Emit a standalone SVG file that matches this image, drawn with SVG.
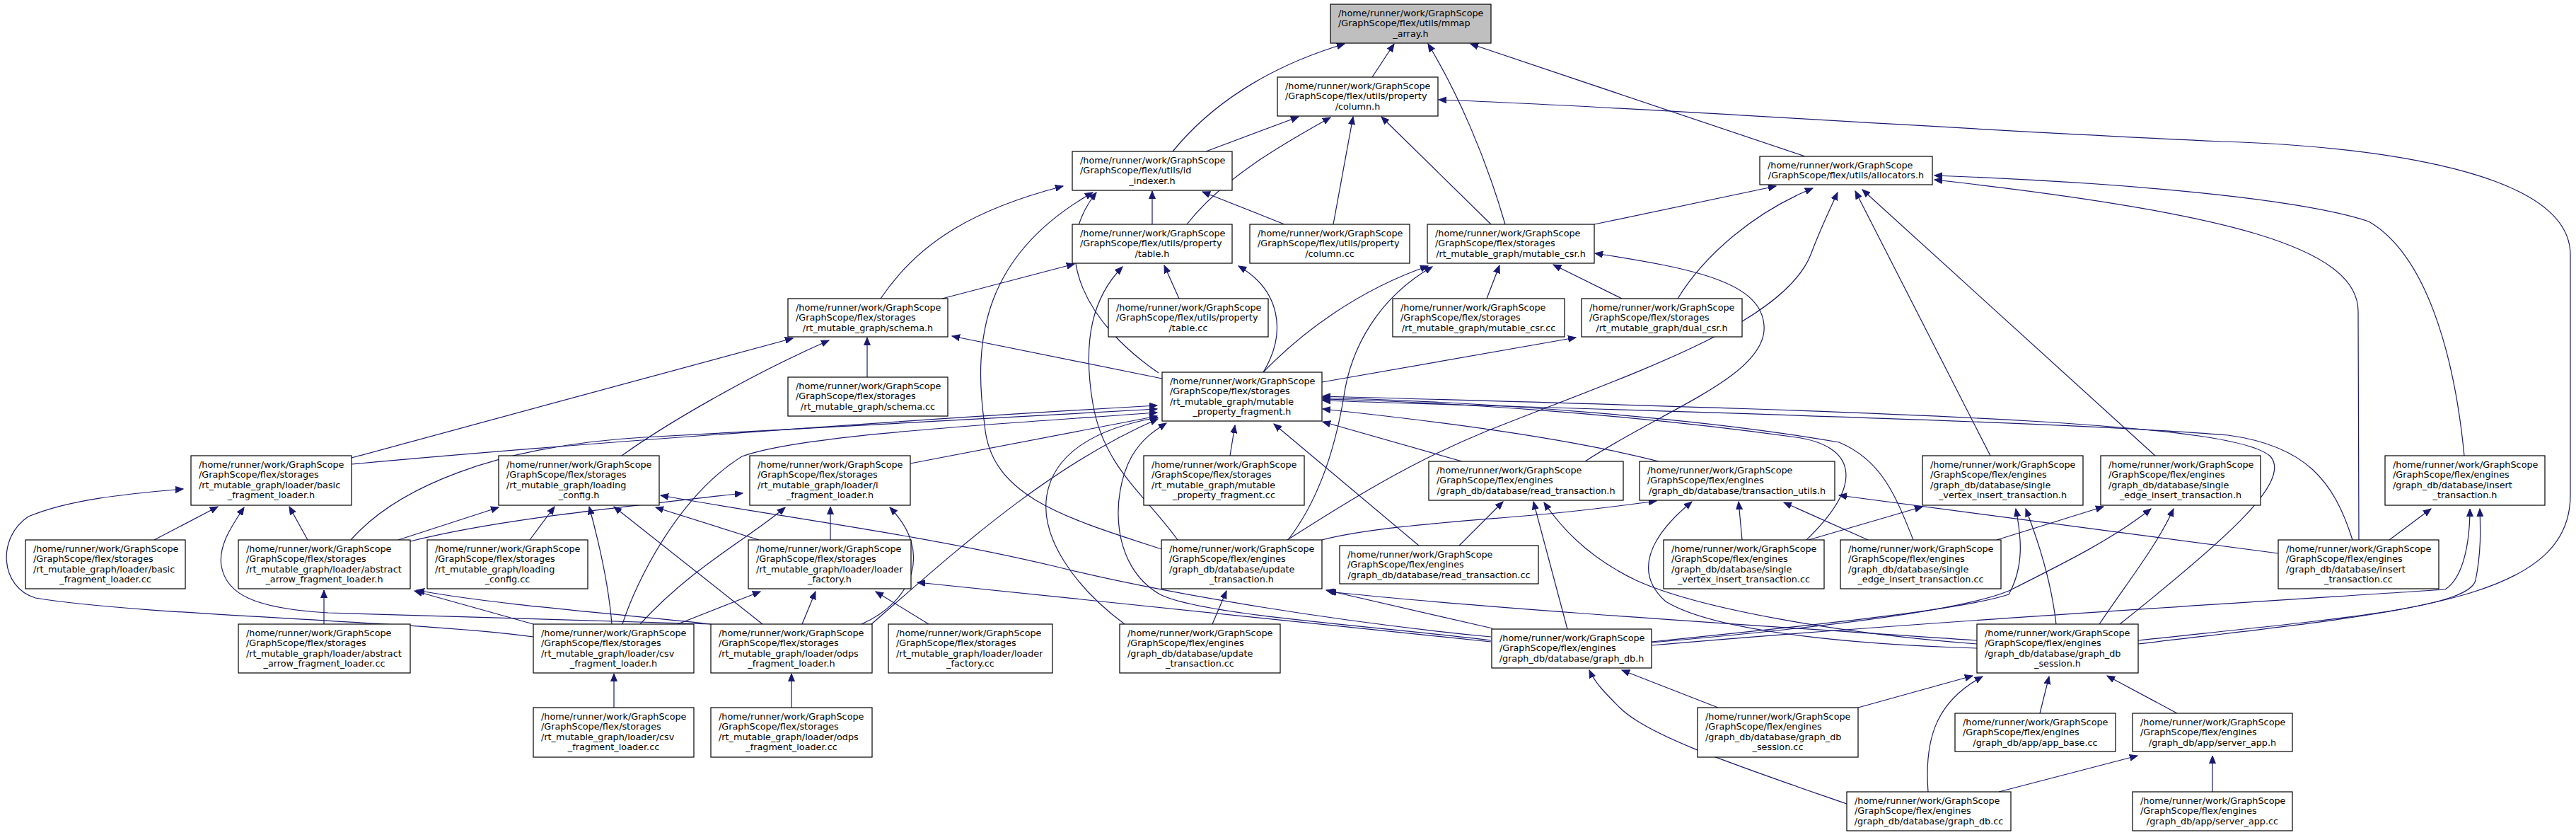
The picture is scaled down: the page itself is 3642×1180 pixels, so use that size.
<svg xmlns="http://www.w3.org/2000/svg" width="3642" height="1180" viewBox="0 0 3642 1180">
<defs>
<style>
.n rect{fill:#fff;stroke:#000;stroke-width:1.2}
.n rect.g{fill:#bfbfbf}
.n text{font-family:"DejaVu Sans",sans-serif;font-size:12.8px;fill:#000}
.n text.c{text-anchor:middle}
#edges path{fill:none;stroke:#191970;stroke-width:1.2;marker-end:url(#a)}
</style>
<marker id="a" markerUnits="userSpaceOnUse" markerWidth="12" markerHeight="10" refX="11" refY="5" orient="auto" viewBox="0 0 12 10"><path d="M0,0.5 L11,5 L0,9.5 z" fill="#191970" stroke="#191970" stroke-width="1"/></marker>
</defs>
<rect x="0" y="0" width="3642" height="1180" fill="#fff"/>
<g id="edges">
<path d="M1658,214 C1710,150 1790,95 1901,62"/>
<path d="M1940,109 L1971,62"/>
<path d="M2128,317 C2100,220 2060,130 2019,62"/>
<path d="M2552,221 L2079,62"/>
<path d="M1705,214 L1836,165"/>
<path d="M1678,317 C1730,250 1820,200 1881,166"/>
<path d="M1885,317 L1913,165"/>
<path d="M2108,317 L1953,165"/>
<path d="M3023,910 C3400,865 3634,850 3634,700 L3634,360 C3634,230 3300,205 3142,200 C2700,180 2300,150 2034,141"/>
<path d="M1629,317 L1629,270"/>
<path d="M1816,317 L1700,271"/>
<path d="M1245,422 C1300,340 1380,295 1503,263"/>
<path d="M1638,527 C1540,460 1480,360 1550,272"/>
<path d="M1642,776 C1500,730 1400,700 1392,600 C1375,480 1390,360 1545,272"/>
<path d="M2254,317 L2511,263"/>
<path d="M2372,422 C2410,360 2480,300 2563,266"/>
<path d="M1820,763 C1900,712 1990,655 2100,610 C2300,530 2520,460 2560,360 C2575,320 2590,290 2598,272"/>
<path d="M2814,644 L2623,270"/>
<path d="M3047,644 L2633,268"/>
<path d="M3484,644 C3470,500 3430,360 3349,313 C3250,280 3000,258 2735,248"/>
<path d="M3335,763 L3334,440 C3334,350 3150,300 2735,254"/>
<path d="M1332,422 L1519,373"/>
<path d="M1667,422 L1646,375"/>
<path d="M1786,526 C1820,470 1810,410 1751,376"/>
<path d="M1665,763 C1620,700 1560,660 1545,570 C1530,480 1545,420 1587,377"/>
<path d="M2102,422 L2120,375"/>
<path d="M2293,422 L2196,374"/>
<path d="M1786,526 C1840,470 1920,410 2019,376"/>
<path d="M1821,763 C1870,700 1890,620 1900,560 C1910,490 1950,420 2025,377"/>
<path d="M2241,652 C2350,580 2500,530 2494,460 C2490,400 2400,380 2255,358"/>
<path d="M1226,533 L1226,477"/>
<path d="M497,647 L1121,478"/>
<path d="M879,644 C940,600 1060,530 1172,481"/>
<path d="M1643,535 L1346,475"/>
<path d="M1869,540 L2228,477"/>
<path d="M497,656 C800,628 1300,592 1636,573"/>
<path d="M496,763 C560,690 700,630 910,618 C1200,602 1450,590 1636,578"/>
<path d="M880,882 C900,820 960,700 1049,645 C1130,615 1400,600 1636,583"/>
<path d="M1287,655 L1636,588"/>
<path d="M1232,882 C1350,780 1480,660 1637,592"/>
<path d="M2108,905 C1950,885 1700,870 1640,840 C1570,800 1570,700 1600,645 C1615,620 1630,610 1649,598"/>
<path d="M1590,882 C1520,830 1470,760 1480,700 C1490,640 1550,605 1637,590"/>
<path d="M1739,644 L1746,601"/>
<path d="M2006,771 L1801,599"/>
<path d="M2067,652 L1870,596"/>
<path d="M2345,652 C2200,615 2000,592 1870,578"/>
<path d="M2554,763 C2640,680 2620,630 2540,618 C2300,585 2050,568 1870,564"/>
<path d="M2705,763 C2680,700 2660,650 2600,625 C2400,590 2100,568 1870,562"/>
<path d="M2997,882 C3150,760 3240,680 3210,645 C3160,600 2800,585 1870,560"/>
<path d="M3326,763 C3300,680 3260,630 3150,615 C2900,595 2300,580 1870,566"/>
<path d="M218,763 L308,716"/>
<path d="M435,763 L409,716"/>
<path d="M754,900 C600,878 200,870 50,845 C0,830 -5,760 40,730 C100,705 180,698 259,691"/>
<path d="M1005,882 C900,878 700,872 464,866 C360,860 320,840 313,800 C308,770 330,740 345,717"/>
<path d="M563,763 L705,717"/>
<path d="M749,763 L784,716"/>
<path d="M865,882 C860,820 845,760 833,716"/>
<path d="M1078,882 L868,716"/>
<path d="M1073,763 L927,717"/>
<path d="M2108,900 C1900,880 1650,840 1490,800 C1300,755 1100,730 934,700"/>
<path d="M580,765 C700,735 850,720 1050,697"/>
<path d="M1174,763 L1174,716"/>
<path d="M905,882 C980,800 1060,760 1110,717"/>
<path d="M1218,882 C1290,850 1320,780 1258,717"/>
<path d="M458,882 L458,834"/>
<path d="M754,882 L586,835"/>
<path d="M1005,882 C900,870 700,855 589,834"/>
<path d="M958,882 L1075,836"/>
<path d="M1134,882 L1153,836"/>
<path d="M1313,882 L1238,836"/>
<path d="M2108,907 L1297,823"/>
<path d="M1714,882 L1734,835"/>
<path d="M2110,888 L1875,834"/>
<path d="M2795,905 C2500,885 2100,860 1878,836"/>
<path d="M2063,771 L2125,709"/>
<path d="M2216,889 L2168,709"/>
<path d="M2795,910 C2600,895 2400,860 2313,820 C2250,790 2210,750 2183,710"/>
<path d="M1869,763 C1950,742 2100,735 2200,725 C2270,718 2310,712 2342,708"/>
<path d="M2795,916 C2600,910 2420,890 2355,850 C2310,810 2330,760 2392,709"/>
<path d="M2463,763 L2458,709"/>
<path d="M2641,763 L2522,710"/>
<path d="M3221,782 L2600,700"/>
<path d="M2557,763 L2718,716"/>
<path d="M2335,907 C2600,880 2780,860 2840,840 C2862,800 2858,760 2850,719"/>
<path d="M2907,882 C2900,820 2880,760 2864,719"/>
<path d="M2823,763 L2974,716"/>
<path d="M2335,908 C2600,885 2780,860 2840,835 C2920,795 2990,760 3041,719"/>
<path d="M2968,882 C3010,820 3050,770 3073,719"/>
<path d="M3378,763 L3437,719"/>
<path d="M2335,912 C2700,880 3200,850 3457,833 C3485,815 3492,760 3492,719"/>
<path d="M3023,905 C3300,875 3490,860 3500,820 C3508,780 3507,750 3506,719"/>
<path d="M868,1000 L868,952"/>
<path d="M1119,1000 L1119,952"/>
<path d="M2429,1000 L2293,947"/>
<path d="M2611,1136 C2450,1080 2330,1040 2290,1000 C2270,980 2255,965 2247,947"/>
<path d="M2627,1000 L2789,955"/>
<path d="M2726,1119 C2720,1040 2740,990 2803,956"/>
<path d="M2884,1008 L2897,956"/>
<path d="M3078,1008 L2979,955"/>
<path d="M2826,1119 L3022,1068"/>
<path d="M3128,1119 L3128,1068"/>
</g>
<g id="n_mmap" class="n"><rect class="g" x="1881" y="6" width="227" height="55"/><text x="1892" y="22.5">/home/runner/work/GraphScope</text><text x="1892" y="37.1">/GraphScope/flex/utils/mmap</text><text class="c" x="1994.5" y="51.7">_array.h</text></g>
<g id="n_column_h" class="n"><rect x="1806" y="109" width="227" height="55"/><text x="1817" y="125.5">/home/runner/work/GraphScope</text><text x="1817" y="140.1">/GraphScope/flex/utils/property</text><text class="c" x="1919.5" y="154.7">/column.h</text></g>
<g id="n_id_indexer" class="n"><rect x="1516" y="214" width="226" height="55"/><text x="1527" y="230.5">/home/runner/work/GraphScope</text><text x="1527" y="245.1">/GraphScope/flex/utils/id</text><text class="c" x="1629" y="259.7">_indexer.h</text></g>
<g id="n_allocators" class="n"><rect x="2488" y="221" width="244" height="40"/><text x="2499" y="237.5">/home/runner/work/GraphScope</text><text class="c" x="2610" y="252.1">/GraphScope/flex/utils/allocators.h</text></g>
<g id="n_table_h" class="n"><rect x="1516" y="317" width="226" height="55"/><text x="1527" y="333.5">/home/runner/work/GraphScope</text><text x="1527" y="348.1">/GraphScope/flex/utils/property</text><text class="c" x="1629" y="362.7">/table.h</text></g>
<g id="n_column_cc" class="n"><rect x="1767" y="317" width="226" height="55"/><text x="1778" y="333.5">/home/runner/work/GraphScope</text><text x="1778" y="348.1">/GraphScope/flex/utils/property</text><text class="c" x="1880" y="362.7">/column.cc</text></g>
<g id="n_mutable_csr_h" class="n"><rect x="2018" y="317" width="236" height="55"/><text x="2029" y="333.5">/home/runner/work/GraphScope</text><text x="2029" y="348.1">/GraphScope/flex/storages</text><text class="c" x="2136" y="362.7">/rt_mutable_graph/mutable_csr.h</text></g>
<g id="n_schema_h" class="n"><rect x="1114" y="422" width="226" height="54"/><text x="1125" y="438.5">/home/runner/work/GraphScope</text><text x="1125" y="453.1">/GraphScope/flex/storages</text><text class="c" x="1227" y="467.7">/rt_mutable_graph/schema.h</text></g>
<g id="n_table_cc" class="n"><rect x="1567" y="422" width="226" height="54"/><text x="1578" y="438.5">/home/runner/work/GraphScope</text><text x="1578" y="453.1">/GraphScope/flex/utils/property</text><text class="c" x="1680" y="467.7">/table.cc</text></g>
<g id="n_mutable_csr_cc" class="n"><rect x="1969" y="422" width="243" height="54"/><text x="1980" y="438.5">/home/runner/work/GraphScope</text><text x="1980" y="453.1">/GraphScope/flex/storages</text><text class="c" x="2090.5" y="467.7">/rt_mutable_graph/mutable_csr.cc</text></g>
<g id="n_dual_csr_h" class="n"><rect x="2236" y="422" width="227" height="54"/><text x="2247" y="438.5">/home/runner/work/GraphScope</text><text x="2247" y="453.1">/GraphScope/flex/storages</text><text class="c" x="2349.5" y="467.7">/rt_mutable_graph/dual_csr.h</text></g>
<g id="n_schema_cc" class="n"><rect x="1114" y="533" width="226" height="55"/><text x="1125" y="549.5">/home/runner/work/GraphScope</text><text x="1125" y="564.1">/GraphScope/flex/storages</text><text class="c" x="1227" y="578.7">/rt_mutable_graph/schema.cc</text></g>
<g id="n_mpf_h" class="n"><rect x="1643" y="526" width="226" height="69"/><text x="1654" y="542.5">/home/runner/work/GraphScope</text><text x="1654" y="557.1">/GraphScope/flex/storages</text><text x="1654" y="571.7">/rt_mutable_graph/mutable</text><text class="c" x="1756" y="586.3">_property_fragment.h</text></g>
<g id="n_basic_loader_h" class="n"><rect x="270" y="644" width="227" height="70"/><text x="281" y="660.5">/home/runner/work/GraphScope</text><text x="281" y="675.1">/GraphScope/flex/storages</text><text x="281" y="689.7">/rt_mutable_graph/loader/basic</text><text class="c" x="383.5" y="704.3">_fragment_loader.h</text></g>
<g id="n_loading_config_h" class="n"><rect x="705" y="644" width="227" height="70"/><text x="716" y="660.5">/home/runner/work/GraphScope</text><text x="716" y="675.1">/GraphScope/flex/storages</text><text x="716" y="689.7">/rt_mutable_graph/loading</text><text class="c" x="818.5" y="704.3">_config.h</text></g>
<g id="n_i_loader_h" class="n"><rect x="1060" y="644" width="227" height="70"/><text x="1071" y="660.5">/home/runner/work/GraphScope</text><text x="1071" y="675.1">/GraphScope/flex/storages</text><text x="1071" y="689.7">/rt_mutable_graph/loader/i</text><text class="c" x="1173.5" y="704.3">_fragment_loader.h</text></g>
<g id="n_mpf_cc" class="n"><rect x="1617" y="644" width="227" height="70"/><text x="1628" y="660.5">/home/runner/work/GraphScope</text><text x="1628" y="675.1">/GraphScope/flex/storages</text><text x="1628" y="689.7">/rt_mutable_graph/mutable</text><text class="c" x="1730.5" y="704.3">_property_fragment.cc</text></g>
<g id="n_read_h" class="n"><rect x="2020" y="652" width="275" height="55"/><text x="2031" y="668.5">/home/runner/work/GraphScope</text><text x="2031" y="683.1">/GraphScope/flex/engines</text><text class="c" x="2157.5" y="697.7">/graph_db/database/read_transaction.h</text></g>
<g id="n_tu_h" class="n"><rect x="2318" y="652" width="276" height="55"/><text x="2329" y="668.5">/home/runner/work/GraphScope</text><text x="2329" y="683.1">/GraphScope/flex/engines</text><text class="c" x="2456" y="697.7">/graph_db/database/transaction_utils.h</text></g>
<g id="n_svi_h" class="n"><rect x="2718" y="644" width="227" height="70"/><text x="2729" y="660.5">/home/runner/work/GraphScope</text><text x="2729" y="675.1">/GraphScope/flex/engines</text><text x="2729" y="689.7">/graph_db/database/single</text><text class="c" x="2831.5" y="704.3">_vertex_insert_transaction.h</text></g>
<g id="n_sei_h" class="n"><rect x="2970" y="644" width="226" height="70"/><text x="2981" y="660.5">/home/runner/work/GraphScope</text><text x="2981" y="675.1">/GraphScope/flex/engines</text><text x="2981" y="689.7">/graph_db/database/single</text><text class="c" x="3083" y="704.3">_edge_insert_transaction.h</text></g>
<g id="n_insert_h" class="n"><rect x="3372" y="644" width="226" height="70"/><text x="3383" y="660.5">/home/runner/work/GraphScope</text><text x="3383" y="675.1">/GraphScope/flex/engines</text><text x="3383" y="689.7">/graph_db/database/insert</text><text class="c" x="3485" y="704.3">_transaction.h</text></g>
<g id="n_basic_loader_cc" class="n"><rect x="36" y="763" width="226" height="69"/><text x="47" y="779.5">/home/runner/work/GraphScope</text><text x="47" y="794.1">/GraphScope/flex/storages</text><text x="47" y="808.7">/rt_mutable_graph/loader/basic</text><text class="c" x="149" y="823.3">_fragment_loader.cc</text></g>
<g id="n_abstract_h" class="n"><rect x="337" y="763" width="243" height="69"/><text x="348" y="779.5">/home/runner/work/GraphScope</text><text x="348" y="794.1">/GraphScope/flex/storages</text><text x="348" y="808.7">/rt_mutable_graph/loader/abstract</text><text class="c" x="458.5" y="823.3">_arrow_fragment_loader.h</text></g>
<g id="n_loading_config_cc" class="n"><rect x="604" y="763" width="227" height="69"/><text x="615" y="779.5">/home/runner/work/GraphScope</text><text x="615" y="794.1">/GraphScope/flex/storages</text><text x="615" y="808.7">/rt_mutable_graph/loading</text><text class="c" x="717.5" y="823.3">_config.cc</text></g>
<g id="n_loader_factory_h" class="n"><rect x="1058" y="763" width="230" height="69"/><text x="1069" y="779.5">/home/runner/work/GraphScope</text><text x="1069" y="794.1">/GraphScope/flex/storages</text><text x="1069" y="808.7">/rt_mutable_graph/loader/loader</text><text class="c" x="1173" y="823.3">_factory.h</text></g>
<g id="n_update_h" class="n"><rect x="1642" y="763" width="227" height="69"/><text x="1653" y="779.5">/home/runner/work/GraphScope</text><text x="1653" y="794.1">/GraphScope/flex/engines</text><text x="1653" y="808.7">/graph_db/database/update</text><text class="c" x="1755.5" y="823.3">_transaction.h</text></g>
<g id="n_read_cc" class="n"><rect x="1894" y="771" width="281" height="54"/><text x="1905" y="787.5">/home/runner/work/GraphScope</text><text x="1905" y="802.1">/GraphScope/flex/engines</text><text class="c" x="2034.5" y="816.7">/graph_db/database/read_transaction.cc</text></g>
<g id="n_svi_cc" class="n"><rect x="2352" y="763" width="227" height="69"/><text x="2363" y="779.5">/home/runner/work/GraphScope</text><text x="2363" y="794.1">/GraphScope/flex/engines</text><text x="2363" y="808.7">/graph_db/database/single</text><text class="c" x="2465.5" y="823.3">_vertex_insert_transaction.cc</text></g>
<g id="n_sei_cc" class="n"><rect x="2602" y="763" width="227" height="69"/><text x="2613" y="779.5">/home/runner/work/GraphScope</text><text x="2613" y="794.1">/GraphScope/flex/engines</text><text x="2613" y="808.7">/graph_db/database/single</text><text class="c" x="2715.5" y="823.3">_edge_insert_transaction.cc</text></g>
<g id="n_insert_cc" class="n"><rect x="3221" y="763" width="227" height="69"/><text x="3232" y="779.5">/home/runner/work/GraphScope</text><text x="3232" y="794.1">/GraphScope/flex/engines</text><text x="3232" y="808.7">/graph_db/database/insert</text><text class="c" x="3334.5" y="823.3">_transaction.cc</text></g>
<g id="n_abstract_cc" class="n"><rect x="337" y="882" width="243" height="69"/><text x="348" y="898.5">/home/runner/work/GraphScope</text><text x="348" y="913.1">/GraphScope/flex/storages</text><text x="348" y="927.7">/rt_mutable_graph/loader/abstract</text><text class="c" x="458.5" y="942.3">_arrow_fragment_loader.cc</text></g>
<g id="n_csv_h" class="n"><rect x="754" y="882" width="227" height="69"/><text x="765" y="898.5">/home/runner/work/GraphScope</text><text x="765" y="913.1">/GraphScope/flex/storages</text><text x="765" y="927.7">/rt_mutable_graph/loader/csv</text><text class="c" x="867.5" y="942.3">_fragment_loader.h</text></g>
<g id="n_odps_h" class="n"><rect x="1005" y="882" width="228" height="69"/><text x="1016" y="898.5">/home/runner/work/GraphScope</text><text x="1016" y="913.1">/GraphScope/flex/storages</text><text x="1016" y="927.7">/rt_mutable_graph/loader/odps</text><text class="c" x="1119" y="942.3">_fragment_loader.h</text></g>
<g id="n_loader_factory_cc" class="n"><rect x="1256" y="882" width="232" height="69"/><text x="1267" y="898.5">/home/runner/work/GraphScope</text><text x="1267" y="913.1">/GraphScope/flex/storages</text><text x="1267" y="927.7">/rt_mutable_graph/loader/loader</text><text class="c" x="1372" y="942.3">_factory.cc</text></g>
<g id="n_update_cc" class="n"><rect x="1583" y="882" width="227" height="69"/><text x="1594" y="898.5">/home/runner/work/GraphScope</text><text x="1594" y="913.1">/GraphScope/flex/engines</text><text x="1594" y="927.7">/graph_db/database/update</text><text class="c" x="1696.5" y="942.3">_transaction.cc</text></g>
<g id="n_graph_db_h" class="n"><rect x="2109" y="889" width="226" height="55"/><text x="2120" y="905.5">/home/runner/work/GraphScope</text><text x="2120" y="920.1">/GraphScope/flex/engines</text><text class="c" x="2222" y="934.7">/graph_db/database/graph_db.h</text></g>
<g id="n_gdbs_h" class="n"><rect x="2795" y="882" width="228" height="69"/><text x="2806" y="898.5">/home/runner/work/GraphScope</text><text x="2806" y="913.1">/GraphScope/flex/engines</text><text x="2806" y="927.7">/graph_db/database/graph_db</text><text class="c" x="2909" y="942.3">_session.h</text></g>
<g id="n_csv_cc" class="n"><rect x="754" y="1000" width="227" height="70"/><text x="765" y="1016.5">/home/runner/work/GraphScope</text><text x="765" y="1031.1">/GraphScope/flex/storages</text><text x="765" y="1045.7">/rt_mutable_graph/loader/csv</text><text class="c" x="867.5" y="1060.3">_fragment_loader.cc</text></g>
<g id="n_odps_cc" class="n"><rect x="1005" y="1000" width="228" height="70"/><text x="1016" y="1016.5">/home/runner/work/GraphScope</text><text x="1016" y="1031.1">/GraphScope/flex/storages</text><text x="1016" y="1045.7">/rt_mutable_graph/loader/odps</text><text class="c" x="1119" y="1060.3">_fragment_loader.cc</text></g>
<g id="n_gdbs_cc" class="n"><rect x="2400" y="1000" width="227" height="70"/><text x="2411" y="1016.5">/home/runner/work/GraphScope</text><text x="2411" y="1031.1">/GraphScope/flex/engines</text><text x="2411" y="1045.7">/graph_db/database/graph_db</text><text class="c" x="2513.5" y="1060.3">_session.cc</text></g>
<g id="n_app_base_cc" class="n"><rect x="2764" y="1008" width="227" height="54"/><text x="2775" y="1024.5">/home/runner/work/GraphScope</text><text x="2775" y="1039.1">/GraphScope/flex/engines</text><text class="c" x="2877.5" y="1053.7">/graph_db/app/app_base.cc</text></g>
<g id="n_server_app_h" class="n"><rect x="3015" y="1008" width="226" height="54"/><text x="3026" y="1024.5">/home/runner/work/GraphScope</text><text x="3026" y="1039.1">/GraphScope/flex/engines</text><text class="c" x="3128" y="1053.7">/graph_db/app/server_app.h</text></g>
<g id="n_graph_db_cc" class="n"><rect x="2611" y="1119" width="232" height="55"/><text x="2622" y="1135.5">/home/runner/work/GraphScope</text><text x="2622" y="1150.1">/GraphScope/flex/engines</text><text class="c" x="2727" y="1164.7">/graph_db/database/graph_db.cc</text></g>
<g id="n_server_app_cc" class="n"><rect x="3015" y="1119" width="226" height="55"/><text x="3026" y="1135.5">/home/runner/work/GraphScope</text><text x="3026" y="1150.1">/GraphScope/flex/engines</text><text class="c" x="3128" y="1164.7">/graph_db/app/server_app.cc</text></g>
</svg>
